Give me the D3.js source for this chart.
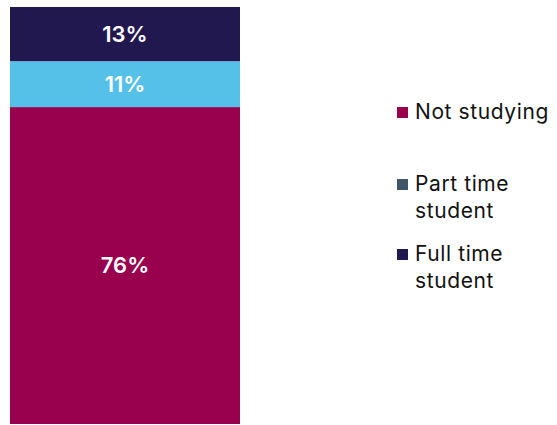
<!DOCTYPE html>
<html>
<head>
<meta charset="utf-8">
<script src="https://cdn.jsdelivr.net/npm/d3@7"></script>
<style>
  body { margin: 0; background: #fff; }
  svg { display: block; font-family: Inter, "Noto Sans", sans-serif; }
  .seg-label { fill: #fff; font-weight: 600; font-size: 22px; }
  .legend-text { fill: #111; font-size: 21px; letter-spacing: 0.6px; }
</style>
</head>
<body>
<div id="chart"></div>
<script>
// stacked from bottom to top
const categories = ['Not studying', 'Part time student', 'Full time student'];
const values = [76, 11, 13];
const barColors = ['#99004d', '#56c1e8', '#221850'];
const legendColors = ['#99004d', '#3f5568', '#221850'];
const legendLines = [['Not studying'], ['Part time', 'student'], ['Full time', 'student']];

const chart = {
    width: 557,
    height: 425,
    barLeft: 10,
    barRight: 240,
    top: 7,
    bottom: 424
};

let svg = d3.select('#chart')
    .append('svg')
    .attr('width', chart.width)
    .attr('height', chart.height);

let yScale = d3.scaleLinear()
    .domain([0, d3.sum(values)])
    .range([chart.bottom, chart.top]);

// cumulative stacking
let segs = [];
let acc = 0;
values.forEach((v, i) => {
    segs.push({ name: categories[i], value: v, y0: acc, y1: acc + v, color: barColors[i] });
    acc += v;
});

svg.append('g')
    .selectAll('rect')
    .data(segs)
    .join('rect')
        .attr('x', chart.barLeft)
        .attr('width', chart.barRight - chart.barLeft)
        .attr('y', d => yScale(d.y1))
        .attr('height', d => yScale(d.y0) - yScale(d.y1))
        .style('fill', d => d.color);

svg.append('g')
    .selectAll('text')
    .data(segs)
    .join('text')
        .attr('class', 'seg-label')
        .attr('x', (chart.barLeft + chart.barRight) / 2)
        .attr('y', d => yScale((d.y0 + d.y1) / 2))
        .attr('dy', '0.36em')
        .attr('text-anchor', 'middle')
        .text(d => d.value + '%');

// Legend
const legendY = [119, 191, 261];
let legend = svg.append('g')
    .selectAll('g')
    .data(categories)
    .join('g')
        .attr('transform', (d, i) => `translate(397, ${legendY[i]})`);

legend.append('rect')
    .attr('x', 0)
    .attr('y', -12)
    .attr('width', 11)
    .attr('height', 11)
    .style('fill', (d, i) => legendColors[i]);

legend.append('text')
    .attr('class', 'legend-text')
    .selectAll('tspan')
    .data((d, i) => legendLines[i])
    .join('tspan')
        .attr('x', 18)
        .attr('y', (d, j) => j * 27)
        .text(d => d);
</script>
</body>
</html>
